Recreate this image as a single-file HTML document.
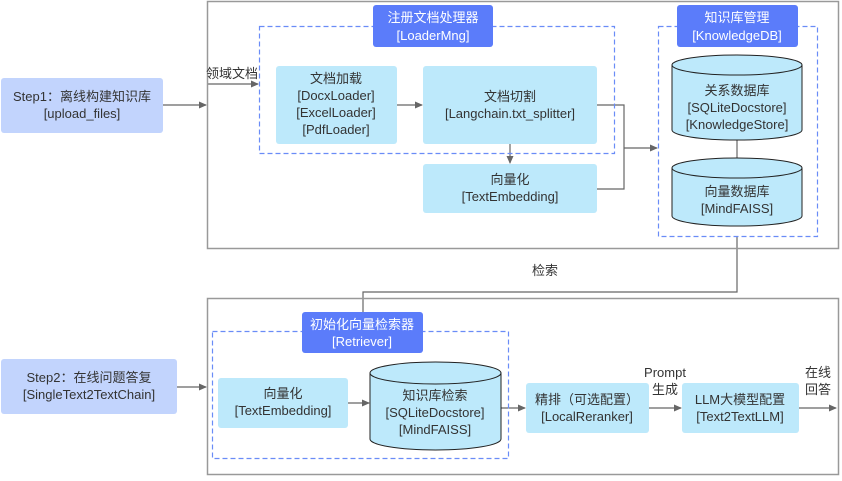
<!DOCTYPE html>
<html><head><meta charset="utf-8"><style>
html,body{margin:0;padding:0;background:#fff;}
svg text{font-family:"Liberation Sans","Noto Sans CJK SC",sans-serif;font-size:13px;fill:#333;text-anchor:middle;}
svg text.w{fill:#fff;}
</style></head><body>
<svg width="842" height="476" viewBox="0 0 842 476" xmlns="http://www.w3.org/2000/svg">
<defs><marker id="a" markerWidth="8" markerHeight="8" refX="7" refY="4" orient="auto" markerUnits="userSpaceOnUse"><path d="M0,0.5 L8,4 L0,7.5 z" fill="#666"/></marker></defs>
<g fill="none" stroke="#666" stroke-width="1.2">
<line x1="163" y1="105" x2="206" y2="105" marker-end="url(#a)"/>
<line x1="207" y1="84" x2="258" y2="84" marker-end="url(#a)"/>
<line x1="397" y1="105" x2="422" y2="105" marker-end="url(#a)"/>
<line x1="510" y1="144" x2="510" y2="163" marker-end="url(#a)"/>
<polyline points="597,105 624,105 624,189 597,189"/>
<line x1="624" y1="148" x2="657" y2="148" marker-end="url(#a)"/>
<line x1="737" y1="140" x2="737" y2="158"/>
<polyline points="737,236 737,292 363,292 363,312"/>
<line x1="177" y1="387" x2="206" y2="387" marker-end="url(#a)"/>
<line x1="348" y1="403" x2="369" y2="403" marker-end="url(#a)"/>
<line x1="501" y1="408" x2="525" y2="408" marker-end="url(#a)"/>
<line x1="649" y1="408" x2="681" y2="408" marker-end="url(#a)"/>
<line x1="799" y1="408" x2="836" y2="408" marker-end="url(#a)"/>
</g>
<rect x="207.5" y="1.5" width="631" height="247" fill="none" stroke="#999" stroke-width="1.5"/>
<rect x="207.5" y="298.5" width="631" height="176" fill="none" stroke="#999" stroke-width="1.5"/>
<g fill="none" stroke="#6a8cf7" stroke-width="1.2" stroke-dasharray="5,3">
<rect x="259.5" y="26.5" width="355" height="127"/>
<rect x="658.5" y="26.5" width="159" height="210"/>
<rect x="212.5" y="331.5" width="296" height="127"/>
</g>
<rect x="1" y="78" width="162" height="55" rx="3" fill="#c2d4fd"/>
<text x="82" y="101">Step1：离线构建知识库</text><text x="82" y="118">[upload_files]</text>
<rect x="1" y="359" width="176" height="55" rx="3" fill="#c2d4fd"/>
<text x="89" y="382">Step2：在线问题答复</text><text x="89" y="399">[SingleText2TextChain]</text>
<text x="232" y="78">领域文档</text>
<rect x="373" y="5" width="120" height="42" rx="3" fill="#5b7cfa"/>
<text class="w" x="433" y="22">注册文档处理器</text><text class="w" x="433" y="40">[LoaderMng]</text>
<rect x="677" y="5" width="121" height="42" rx="3" fill="#5b7cfa"/>
<text class="w" x="737" y="22">知识库管理</text><text class="w" x="737" y="40">[KnowledgeDB]</text>
<rect x="302" y="312" width="121" height="41" rx="3" fill="#5b7cfa"/>
<text class="w" x="362" y="329">初始化向量检索器</text><text class="w" x="362" y="346">[Retriever]</text>
<g fill="#bde9fb">
<rect x="276" y="66" width="121" height="78" rx="3"/>
<rect x="423" y="66" width="174" height="78" rx="3"/>
<rect x="423" y="164" width="174" height="49" rx="3"/>
<rect x="218" y="378" width="130" height="50" rx="3"/>
<rect x="526" y="383" width="123" height="50" rx="3"/>
<rect x="682" y="383" width="117" height="50" rx="3"/>
</g>
<text x="336" y="83">文档加载</text><text x="336" y="100">[DocxLoader]</text><text x="336" y="117">[ExcelLoader]</text><text x="336" y="134">[PdfLoader]</text>
<text x="510" y="101">文档切割</text><text x="510" y="118">[Langchain.txt_splitter]</text>
<text x="510" y="184">向量化</text><text x="510" y="201">[TextEmbedding]</text>
<text x="283" y="398">向量化</text><text x="283" y="415">[TextEmbedding]</text>
<text x="587" y="404">精排（可选配置）</text><text x="587" y="421">[LocalReranker]</text>
<text x="740" y="404">LLM大模型配置</text><text x="740" y="421">[Text2TextLLM]</text>
<g fill="#bde9fb" stroke="#222" stroke-width="1">
<path d="M672,65 L672,130 A65,10 0 0 0 802,130 L802,65"/><ellipse cx="737" cy="65" rx="65" ry="10"/>
<path d="M672,168 L672,216 A65,10 0 0 0 802,216 L802,168"/><ellipse cx="737" cy="168" rx="65" ry="10"/>
<path d="M370,373 L370,439 A65.5,11 0 0 0 501,439 L501,373"/><ellipse cx="435.5" cy="373" rx="65.5" ry="11"/>
</g>
<text x="737" y="95">关系数据库</text><text x="737" y="112">[SQLiteDocstore]</text><text x="737" y="129">[KnowledgeStore]</text>
<text x="737" y="196">向量数据库</text><text x="737" y="213">[MindFAISS]</text>
<text x="435" y="400">知识库检索</text><text x="435" y="417">[SQLiteDocstore]</text><text x="435" y="434">[MindFAISS]</text>
<text x="545" y="275">检索</text>
<text x="665" y="377">Prompt</text><text x="665" y="394">生成</text>
<text x="818" y="377">在线</text><text x="818" y="394">回答</text>
</svg>
</body></html>
